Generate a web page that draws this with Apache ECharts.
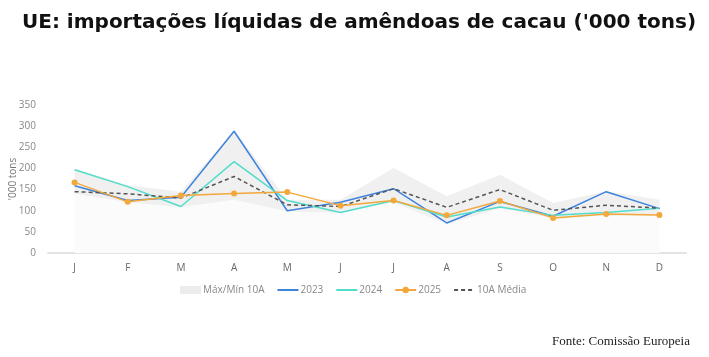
<!DOCTYPE html>
<html><head><meta charset="utf-8">
<script src="https://cdn.jsdelivr.net/npm/echarts@6/dist/echarts.min.js"></script>
<style>html,body{margin:0;padding:0;background:#fff}#c{width:709px;height:357px}</style>
</head><body><div id="c"></div>
<script>
const months = ['J','F','M','A','M','J','J','A','S','O','N','D'];
const max10 = [200,160,145,290,126,126,201,134,185,118,146,126];
const min10 = [140,120,108,126,98,95,120,68,105,82,88,88];
const s2023 = [159,124,132,288,100,120,152,71,122,87,145,105];
const s2024 = [197,157,110,216,124,96,124,85,109,89,96,106];
const s2025 = [167,121,136,141,144,112,124,89,123,83,92,90];
const avg10 = [145,140,130,181,114,110,152,108,150,101,113,106];
const yTicks = [0,50,100,150,200,250,300,350];

const band = max10.map((v,i)=>v-min10[i]);
const chart = echarts.init(document.getElementById('c'));
const clear = {itemStyle:{color:'rgba(0,0,0,0)',borderWidth:0}};
chart.setOption({
  animation:false,
  title:[{text:"UE: importações líquidas de amêndoas de cacau ('000 tons)",left:17,top:8,
    textStyle:{fontFamily:'DejaVu Sans',fontWeight:'bold',fontSize:20,color:'#111'}},
    {text:'Fonte: Comissão Europeia',right:14,top:330,textStyle:{fontFamily:'Liberation Serif',fontWeight:'normal',fontSize:13,color:'#222'}}],
  grid:{left:48,right:23,top:105,bottom:104,outerBoundsMode:'none',containLabel:false},
  legend:{top:280,left:175,itemGap:12,itemWidth:21,itemHeight:8,
    textStyle:{fontFamily:'Open Sans',fontSize:10,color:'#888',padding:[0,0,0,-3]},
    lineStyle:{width:2},
    data:[{name:'Máx/Mín 10A',icon:'rect'},
      Object.assign({name:'2023'},clear),Object.assign({name:'2024'},clear),
      '2025',Object.assign({name:'10A Média'},clear)]},
  xAxis:{type:'category',data:months,boundaryGap:true,
    axisLine:{lineStyle:{color:'#e3e3e3',width:2}},axisTick:{show:false},
    axisLabel:{color:'#666',fontFamily:'Open Sans',fontSize:10,margin:10}},
  yAxis:{type:'value',min:0,max:350,interval:50,name:"'000 tons",nameLocation:'middle',nameGap:30,nameMoveOverlap:false,
    nameTextStyle:{color:'#777',fontFamily:'Open Sans',fontSize:10},
    splitLine:{show:false},axisLine:{show:false},axisTick:{show:false},
    axisLabel:{color:'#888',fontFamily:'Open Sans',fontSize:10,margin:12,
      formatter:v=>yTicks.includes(v)?String(v):''}},
  series:[
    {name:'min',type:'line',stack:'b',data:min10,symbol:'none',lineStyle:{width:0},
      areaStyle:{color:'#fbfbfb',opacity:1},silent:true,z:1},
    {name:'Máx/Mín 10A',type:'line',stack:'b',data:band,symbol:'none',lineStyle:{width:0},
      itemStyle:{color:'#ececec'},areaStyle:{color:'#f0f0f0',opacity:1},z:1},
    {name:'2023',type:'line',data:s2023,symbol:'none',itemStyle:{color:'#3f83dc'},lineStyle:{width:1.5,color:'#3f83dc'},z:3},
    {name:'2024',type:'line',data:s2024,symbol:'none',itemStyle:{color:'#52dccb'},lineStyle:{width:1.5,color:'#52dccb'},z:3},
    {name:'2025',type:'line',data:s2025,symbol:'circle',symbolSize:6,itemStyle:{color:'#f2a83a'},lineStyle:{width:1.5,color:'#f2a83a'},z:4},
    {name:'10A Média',type:'line',data:avg10,symbol:'none',itemStyle:{color:'#555'},lineStyle:{width:1.5,color:'#555',type:[4,3]},z:3}
  ]
});
</script></body></html>
